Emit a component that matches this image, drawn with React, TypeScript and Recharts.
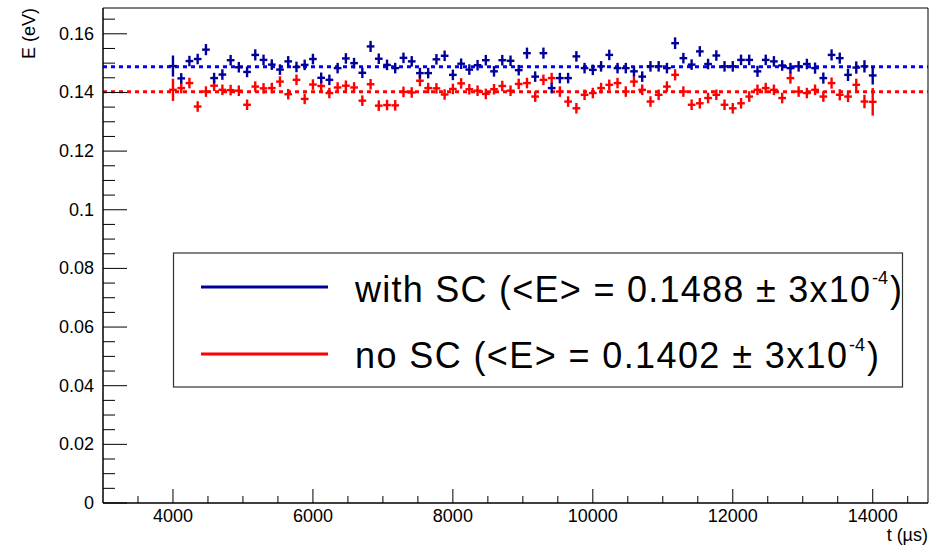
import React from "react";
import {
  ScatterChart,
  Scatter,
  XAxis,
  YAxis,
  ErrorBar,
  ReferenceLine,
  ReferenceArea,
} from "recharts";

// time bins (µs)
const times = [
  4000, 4118, 4235, 4353, 4471, 4588, 4706, 4824, 4941, 5059,
  5176, 5294, 5412, 5529, 5647, 5765, 5882, 6000, 6118, 6235,
  6353, 6471, 6588, 6706, 6824, 6941, 7059, 7176, 7294, 7412,
  7529, 7647, 7765, 7882, 8000, 8118, 8235, 8353, 8471, 8588,
  8706, 8824, 8941, 9059, 9176, 9294, 9412, 9529, 9647, 9765,
  9882, 10000, 10118, 10235, 10353, 10471, 10588, 10706, 10824, 10941,
  11059, 11176, 11294, 11412, 11529, 11647, 11765, 11882, 12000, 12118,
  12235, 12353, 12471, 12588, 12706, 12824, 12941, 13059, 13176, 13294,
  13412, 13529, 13647, 13765, 13882, 14000,
];

// E (eV), with space charge
const withSC = [
  0.149, 0.1448, 0.1507, 0.1514, 0.1546, 0.1449, 0.1461, 0.151, 0.1486, 0.147,
  0.1528, 0.1511, 0.1495, 0.1478, 0.1506, 0.1487, 0.1494, 0.1514, 0.145, 0.1443,
  0.1483, 0.1516, 0.15, 0.1467, 0.1557, 0.1515, 0.1494, 0.1483, 0.1518, 0.1506,
  0.1466, 0.1466, 0.1513, 0.1525, 0.146, 0.1498, 0.1478, 0.1493, 0.151, 0.1472,
  0.151, 0.1508, 0.1476, 0.1534, 0.1454, 0.1534, 0.1415, 0.1449, 0.1449, 0.1523,
  0.1483, 0.1477, 0.1489, 0.1528, 0.1483, 0.1483, 0.1472, 0.1454, 0.1489, 0.1489,
  0.1483, 0.1568, 0.1517, 0.1495, 0.154, 0.1497, 0.1526, 0.1489, 0.1489, 0.1511,
  0.1511, 0.1472, 0.1511, 0.1506, 0.1492, 0.1483, 0.1489, 0.1497, 0.1483, 0.1449,
  0.1528, 0.1517, 0.146, 0.1485, 0.1489, 0.1458,
];
const withSCErr = [
  0.0036, 0.0018, 0.0018, 0.0018, 0.0019, 0.0018, 0.0018, 0.0018, 0.0018, 0.0018,
  0.0019, 0.0018, 0.0018, 0.0018, 0.0018, 0.0018, 0.0018, 0.0018, 0.0018, 0.0018,
  0.0018, 0.0018, 0.0018, 0.0018, 0.0019, 0.0018, 0.0018, 0.0018, 0.0018, 0.0018,
  0.0018, 0.0018, 0.0018, 0.0018, 0.0018, 0.0018, 0.0018, 0.0018, 0.0018, 0.0018,
  0.0018, 0.0018, 0.0018, 0.0019, 0.0018, 0.0019, 0.0018, 0.0018, 0.0018, 0.0018,
  0.0018, 0.0018, 0.0018, 0.0018, 0.0018, 0.0018, 0.0018, 0.0018, 0.0018, 0.0018,
  0.0018, 0.002, 0.0018, 0.0018, 0.0018, 0.0018, 0.0018, 0.0018, 0.0018, 0.0018,
  0.0018, 0.0019, 0.0018, 0.0018, 0.0018, 0.0018, 0.0018, 0.0018, 0.0019, 0.0019,
  0.0019, 0.0019, 0.0021, 0.0021, 0.0021, 0.0031,
];

// E (eV), no space charge
const noSC = [
  0.1409, 0.1415, 0.1432, 0.1352, 0.1403, 0.1423, 0.1409, 0.1408, 0.1406, 0.1358,
  0.142, 0.1414, 0.1415, 0.1437, 0.1394, 0.1443, 0.1378, 0.1427, 0.1422, 0.1398,
  0.1417, 0.1423, 0.1417, 0.1372, 0.1428, 0.1355, 0.1357, 0.1356, 0.1402, 0.14,
  0.144, 0.1415, 0.1414, 0.1393, 0.1412, 0.1431, 0.1411, 0.1406, 0.1395, 0.1411,
  0.1422, 0.1406, 0.1429, 0.1432, 0.1386, 0.1443, 0.1449, 0.1403, 0.1369, 0.1346,
  0.1392, 0.1398, 0.1415, 0.1426, 0.1432, 0.1403, 0.1437, 0.1409, 0.1369, 0.1392,
  0.142, 0.146, 0.1403, 0.1358, 0.1363, 0.1381, 0.1392, 0.1358, 0.1346, 0.1363,
  0.1386, 0.1409, 0.1415, 0.1409, 0.1381, 0.1449, 0.1403, 0.1398, 0.1409, 0.1386,
  0.1432, 0.1392, 0.1386, 0.1426, 0.1369, 0.1368,
];
const noSCErr = [
  0.0038, 0.0018, 0.0018, 0.0018, 0.0018, 0.0018, 0.0018, 0.0018, 0.0018, 0.0018,
  0.0018, 0.0018, 0.0018, 0.0018, 0.0018, 0.0018, 0.0018, 0.0018, 0.0018, 0.0018,
  0.0018, 0.0018, 0.0018, 0.0018, 0.0018, 0.0018, 0.0018, 0.0018, 0.0018, 0.0018,
  0.0019, 0.0018, 0.0018, 0.0018, 0.0018, 0.0018, 0.0018, 0.0018, 0.0018, 0.0018,
  0.0018, 0.0018, 0.0018, 0.0018, 0.0018, 0.0018, 0.0018, 0.0018, 0.0018, 0.0018,
  0.0018, 0.0018, 0.0018, 0.0018, 0.0018, 0.0018, 0.0018, 0.0018, 0.0018, 0.0018,
  0.0018, 0.0019, 0.0018, 0.0018, 0.0018, 0.0018, 0.0018, 0.0018, 0.0018, 0.0018,
  0.0018, 0.0018, 0.0018, 0.0018, 0.0018, 0.0019, 0.0018, 0.0018, 0.0018, 0.0018,
  0.0019, 0.0019, 0.0019, 0.0021, 0.0023, 0.0047,
];

const binHalfWidth = 55;
const meanWithSC = 0.1488;
const meanNoSC = 0.1402;

const xTicks = [
  3500, 4000, 4500, 5000, 5500, 6000, 6500, 7000, 7500, 8000, 8500, 9000,
  9500, 10000, 10500, 11000, 11500, 12000, 12500, 13000, 13500, 14000, 14500,
];
const yTicks = [
  0, 0.005, 0.01, 0.015, 0.02, 0.025, 0.03, 0.035, 0.04, 0.045, 0.05, 0.055,
  0.06, 0.065, 0.07, 0.075, 0.08, 0.085, 0.09, 0.095, 0.1, 0.105, 0.11, 0.115,
  0.12, 0.125, 0.13, 0.135, 0.14, 0.145, 0.15, 0.155, 0.16, 0.165,
];
const xDomain = [3000, 14790];
const yDomain = [0, 0.1688];

const W = 940;
const H = 545;
const PLOT = { left: 103, top: 8, right: 928, bottom: 503 };
const FONT = '"Liberation Sans", Arial, Helvetica, sans-serif';

const blueData = times.map((t, i) => ({ t, e: withSC[i], ex: binHalfWidth, ey: withSCErr[i] }));
const redData = times.map((t, i) => ({ t, e: noSC[i], ex: binHalfWidth, ey: noSCErr[i] }));

const NoMarker = () => <g />;

const XTick = (props: any) => {
  const { x, payload } = props;
  const major = payload.value % 2000 === 0;
  return (
    <g>
      <line x1={x} x2={x} y1={PLOT.bottom} y2={PLOT.bottom - (major ? 14 : 7)} stroke="#000" />
      {major && (
        <text x={x} y={522} textAnchor="middle" fontSize={18} fontFamily={FONT} fill="#000">
          {payload.value}
        </text>
      )}
    </g>
  );
};

const YTick = (props: any) => {
  const { y, payload } = props;
  const v = payload.value;
  const major = Math.abs(v * 50 - Math.round(v * 50)) < 1e-6;
  return (
    <g>
      <line x1={PLOT.left} x2={PLOT.left + (major ? 24 : 12)} y1={y} y2={y} stroke="#000" />
      {major && (
        <text x={94} y={y + 6} textAnchor="end" fontSize={18} fontFamily={FONT} fill="#000">
          {String(Number(v.toFixed(2)))}
        </text>
      )}
    </g>
  );
};

export default function App() {
  return (
    <div style={{ position: "fixed", left: 0, top: 0, width: W, height: H, background: "#fff" }}>
      <ScatterChart
        width={W}
        height={H}
        margin={{ top: PLOT.top, right: W - PLOT.right, bottom: 0, left: 0 }}
      >
        <XAxis
          type="number"
          dataKey="t"
          domain={xDomain}
          ticks={xTicks}
          interval={0}
          allowDataOverflow
          height={H - PLOT.bottom}
          tickLine={false}
          axisLine={{ stroke: "#000" }}
          tick={XTick}
        />
        <YAxis
          type="number"
          dataKey="e"
          domain={yDomain}
          ticks={yTicks}
          interval={0}
          allowDataOverflow
          width={PLOT.left}
          tickLine={false}
          axisLine={{ stroke: "#000" }}
          tick={YTick}
        />
        <ReferenceArea
          x1={xDomain[0]}
          x2={xDomain[1]}
          y1={yDomain[0]}
          y2={yDomain[1]}
          fill="none"
          stroke="#000"
          strokeWidth={1}
        />
        <ReferenceLine y={meanWithSC} stroke="#0000ff" strokeWidth={3} strokeDasharray="4 4" />
        <ReferenceLine y={meanNoSC} stroke="#ff0000" strokeWidth={3} strokeDasharray="4 4" />
        <Scatter data={redData} fill="#ff0000" shape={NoMarker} isAnimationActive={false}>
          <ErrorBar dataKey="ey" direction="y" width={0} stroke="#ff0000" strokeWidth={2.4} />
          <ErrorBar dataKey="ex" direction="x" width={0} stroke="#ff0000" strokeWidth={2.4} />
        </Scatter>
        <Scatter data={blueData} fill="#000099" shape={NoMarker} isAnimationActive={false}>
          <ErrorBar dataKey="ey" direction="y" width={0} stroke="#000099" strokeWidth={2.4} />
          <ErrorBar dataKey="ex" direction="x" width={0} stroke="#000099" strokeWidth={2.4} />
        </Scatter>
      </ScatterChart>

      <svg
        width={W}
        height={H}
        style={{ position: "absolute", left: 0, top: 0, pointerEvents: "none" }}
        fontFamily={FONT}
      >
        <text transform="translate(35,8) rotate(-90)" textAnchor="end" fontSize={18} fill="#000">
          E (eV)
        </text>
        <text x={928} y={541} textAnchor="end" fontSize={18} fill="#000">
          t (µs)
        </text>

        <rect x={173.5} y={253} width={729} height={134} fill="#fff" stroke="#333" strokeWidth={1.2} />
        <line x1={201} x2={328} y1={287} y2={287} stroke="#000099" strokeWidth={3} />
        <line x1={201} x2={328} y1={354} y2={354} stroke="#ff0000" strokeWidth={3} />

        <text x={355} y={302} fontSize={36} fill="#000" textLength={515} lengthAdjust="spacing">
          with SC (&lt;E&gt; = 0.1488 ± 3x10
        </text>
        <text x={872} y={284} fontSize={18} fill="#000">-4</text>
        <text x={890} y={302} fontSize={36} fill="#000">)</text>

        <text x={355} y={368} fontSize={36} fill="#000" textLength={492} lengthAdjust="spacing">
          no SC (&lt;E&gt; = 0.1402 ± 3x10
        </text>
        <text x={849} y={351} fontSize={18} fill="#000">-4</text>
        <text x={867} y={368} fontSize={36} fill="#000">)</text>
      </svg>
    </div>
  );
}
